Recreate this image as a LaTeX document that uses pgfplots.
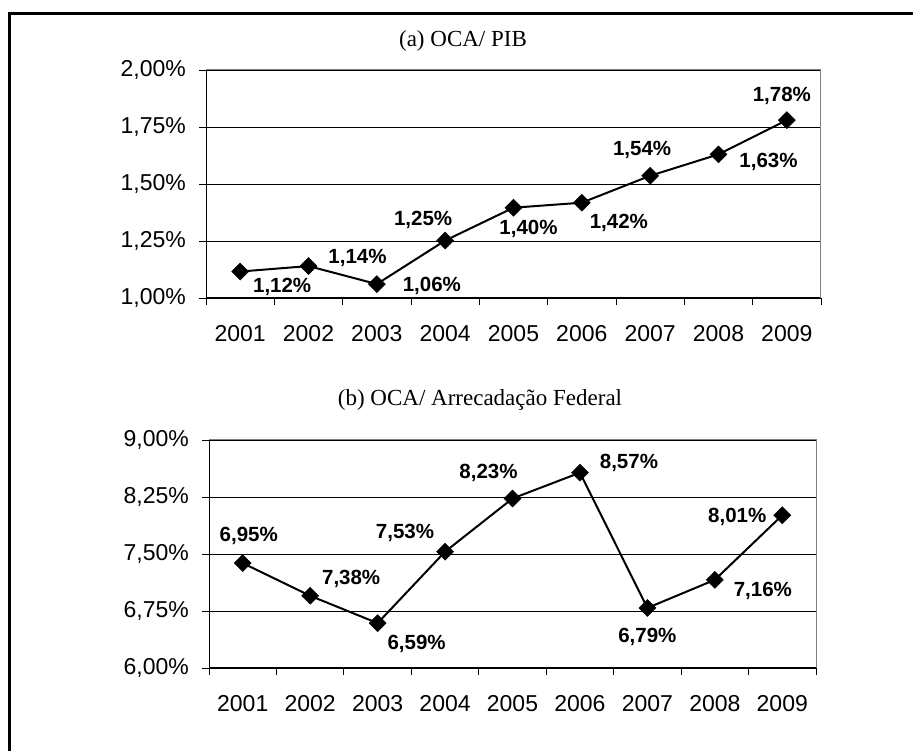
\documentclass[border=0pt]{standalone}
\usepackage{pgfplots}
\pgfplotsset{compat=1.18}
\usepackage{pgfplotstable}
\usepackage{fontspec}
\setmainfont{Liberation Serif}
\newfontfamily\arial{Liberation Sans}

\pgfplotstableread{
x y lab dx dy
0 1.116 1,12 42 -15
1 1.140 1,14 49 8
2 1.061 1,06 55 -2
3 1.252 1,25 -22 21
4 1.396 1,40 15 -21
5 1.418 1,42 37 -20
6 1.536 1,54 -8 26
7 1.630 1,63 50 -8
8 1.780 1,78 -5 24
}\tabA

\pgfplotstableread{
x y lab dx dy
0 7.38 6,95 6 27
1 6.95 7,38 41 17
2 6.59 6,59 39 -21
3 7.53 7,53 -40 19
4 8.23 8,23 -24 26
5 8.57 8,57 49 10
6 6.79 6,79 0 -29
7 7.16 7,16 48 -11
8 8.01 8,01 -45 -2
}\tabB

\pgfplotsset{
  mystyle/.style={
    scale only axis,
    anchor=south west,
    xmin=-0.5, xmax=8.5,
    xtick={0,...,8},
    xticklabels={2001,2002,2003,2004,2005,2006,2007,2008,2009},
    minor xtick={-0.5,0.5,...,8.5},
    major x tick style={draw=none},
    minor x tick style={black, line width=0.8pt},
    major y tick style={black, line width=0.8pt},
    tick align=outside,
    major tick length=7pt,
    minor tick length=7pt,
    axis lines*=left,
    axis line style={-, black, line width=1pt},
    ymajorgrids,
    grid style={black, line width=0.8pt},
    tick label style={font=\arial\fontsize{23}{27}\selectfont, text=black},
    yticklabel style={anchor=east, inner sep=0pt, xshift=-13pt},
    xticklabel style={anchor=north, inner sep=0pt, yshift=-20pt},
    clip=false,
  },
  myplot/.style={
      black, line width=2pt,
      mark=square*, mark size=6pt,
      mark options={rotate=45, fill=black, draw=black, line width=0.5pt, solid},
      point meta=explicit symbolic,
      visualization depends on={\thisrow{dx} \as \dx},
      visualization depends on={\thisrow{dy} \as \dy},
      nodes near coords={\pgfplotspointmeta\%},
      nodes near coords style={font=\arial\bfseries\fontsize{20.5}{24}\selectfont,
        anchor=center, inner sep=0pt, xshift=\dx pt, yshift=\dy pt, text=black},
  },
}

\begin{document}
\begin{tikzpicture}[x=1pt,y=1pt]
\path[use as bounding box] (0,0) rectangle (913,751);
\draw[line width=3pt] (9,-5) -- (9,737) -- (920,737);

\node[font=\fontsize{23}{27}\selectfont, anchor=base] at (463,704) {(a) OCA/ PIB};
\begin{axis}[mystyle,
  at={(206pt,453pt)}, width=615pt, height=228pt,
  ymin=1, ymax=2,
  ytick={1,1.25,1.5,1.75,2},
  yticklabels={{1,00\%},{1,25\%},{1,50\%},{1,75\%},{2,00\%}},
]
\addplot[myplot] table[x=x, y=y, meta=lab] {\tabA};
\draw[gray, line width=1pt] (rel axis cs:0,1) -- (rel axis cs:1,1) -- (rel axis cs:1,0);
\end{axis}

\node[font=\fontsize{23}{27}\selectfont, anchor=base] at (480,345) {(b) OCA/ Arrecadação Federal};
\begin{axis}[mystyle,
  at={(209pt,83pt)}, width=607pt, height=228pt,
  ymin=6, ymax=9,
  ytick={6,6.75,7.5,8.25,9},
  yticklabels={{6,00\%},{6,75\%},{7,50\%},{8,25\%},{9,00\%}},
]
\addplot[myplot] table[x=x, y=y, meta=lab] {\tabB};
\draw[gray, line width=1pt] (rel axis cs:0,1) -- (rel axis cs:1,1) -- (rel axis cs:1,0);
\end{axis}
\end{tikzpicture}
\end{document}
